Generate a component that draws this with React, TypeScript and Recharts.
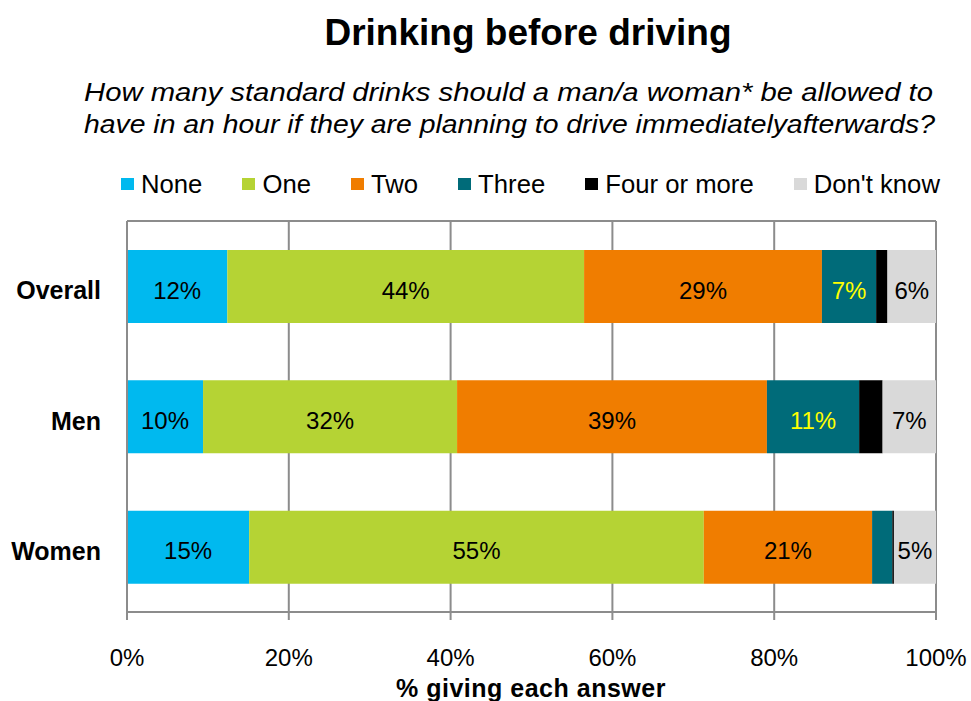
import React from "react";
import { BarChart, Bar, XAxis, YAxis, CartesianGrid, LabelList } from "recharts";

const categories = ["Overall", "Men", "Women"];
const seriesNames = ["None", "One", "Two", "Three", "Four or more", "Don't know"];
const noneValues = [12.4, 9.4, 15.1];
const oneValues = [44.1, 31.4, 56.2];
const twoValues = [29.4, 38.3, 20.8];
const threeValues = [6.7, 11.4, 2.5];
const fourValues = [1.4, 2.9, 0.2];
const dontKnowValues = [6.0, 6.6, 5.2];
const noneLabels = ["12%", "10%", "15%"];
const oneLabels = ["44%", "32%", "55%"];
const twoLabels = ["29%", "39%", "21%"];
const threeLabels = ["7%", "11%", ""];
const fourLabels = ["", "", ""];
const dontKnowLabels = ["6%", "7%", "5%"];
const xTicks = [0, 20, 40, 60, 80, 100];

const title = "Drinking before driving";
const subtitle1 = "How many standard drinks should a man/a woman* be allowed to";
const subtitle2 = "have in an hour if they are planning to drive immediatelyafterwards?";
const xAxisTitle = "% giving each answer";

const seriesValues = [noneValues, oneValues, twoValues, threeValues, fourValues, dontKnowValues];
const seriesLabels = [noneLabels, oneLabels, twoLabels, threeLabels, fourLabels, dontKnowLabels];
const seriesColors = ["#00B9EF", "#B5D334", "#F07D00", "#006B79", "#000000", "#D9D9D9"];
const labelColors = ["#000000", "#000000", "#000000", "#FFFF00", "#000000", "#000000"];

const data = categories.map((c, i) => {
  const row: Record<string, string | number> = { category: c };
  seriesNames.forEach((_, s) => {
    row[`s${s}`] = seriesValues[s][i];
    row[`l${s}`] = seriesLabels[s][i];
  });
  return row;
});

const FONT = "'Liberation Sans', Arial, sans-serif";
const GRID = "#8C8C8C";

const XTick = (props: any) => {
  const { x, y, payload } = props;
  return (
    <text x={x} y={y} dy={44} textAnchor="middle" fontSize={24} fill="#000" fontFamily={FONT}>
      {`${payload.value}%`}
    </text>
  );
};

const YTick = (props: any) => {
  const { x, y, payload } = props;
  return (
    <text x={x} y={y} dy={13} textAnchor="end" fontSize={25} fontWeight="bold" fill="#000" fontFamily={FONT}>
      {payload.value}
    </text>
  );
};

const makeLabel = (color: string) => (props: any) => {
  const { x, y, width, height, value } = props;
  if (!value) return null;
  return (
    <text x={x + width / 2} y={y + height / 2} dy={12} textAnchor="middle" fontSize={24} fill={color} fontFamily={FONT}>
      {value}
    </text>
  );
};

export default function App() {
  return (
    <div style={{ position: "absolute", left: 0, top: 0, width: 971, height: 701, background: "#fff", fontFamily: FONT, overflow: "hidden" }}>
      <BarChart
        width={971}
        height={701}
        layout="vertical"
        data={data}
        margin={{ top: 221, right: 35, bottom: 0, left: 0 }}
        barSize={73}
      >
        <CartesianGrid
          stroke={GRID}
          strokeWidth={2}
          vertical={true}
          horizontal={true}
          horizontalCoordinatesGenerator={({ offset }: any) => [offset.top]}
        />
        <XAxis
          type="number"
          domain={[0, 100]}
          ticks={xTicks}
          height={89}
          axisLine={{ stroke: GRID, strokeWidth: 2 }}
          tickLine={{ stroke: GRID, strokeWidth: 2 }}
          tickSize={8}
          tick={<XTick />}
          interval={0}
        />
        <YAxis
          type="category"
          dataKey="category"
          width={127}
          axisLine={{ stroke: GRID, strokeWidth: 2 }}
          tickLine={false}
          tickSize={0}
          tickMargin={26}
          tick={<YTick />}
        />
        {seriesNames.map((name, s) => (
          <Bar key={name} dataKey={`s${s}`} name={name} stackId="a" fill={seriesColors[s]} isAnimationActive={false}>
            <LabelList dataKey={`l${s}`} content={makeLabel(labelColors[s])} />
          </Bar>
        ))}
      </BarChart>
      <svg width={971} height={701} style={{ position: "absolute", left: 0, top: 0, pointerEvents: "none" }}>
        <text x={528} y={45} textAnchor="middle" fontSize={37} fontWeight="bold" fill="#000" fontFamily={FONT}>
          {title}
        </text>
        <text x={84} y={101} fontSize={26} fontStyle="italic" fill="#000" fontFamily={FONT} textLength={849} lengthAdjust="spacingAndGlyphs">
          {subtitle1}
        </text>
        <text x={84} y={133} fontSize={26} fontStyle="italic" fill="#000" fontFamily={FONT} textLength={851} lengthAdjust="spacingAndGlyphs">
          {subtitle2}
        </text>
        <text x={531} y={697} textAnchor="middle" fontSize={25} fontWeight="bold" fill="#000" fontFamily={FONT} letterSpacing={0.5}>
          {xAxisTitle}
        </text>
      </svg>
      <div style={{ position: "absolute", left: 121, top: 170, display: "flex", alignItems: "center", height: 28, fontSize: 25.7, lineHeight: "28px", color: "#000", whiteSpace: "nowrap" }}>
        {seriesNames.map((name, s) => (
          <div key={name} style={{ display: "flex", alignItems: "center", marginRight: 40 }}>
            <div style={{ width: 13, height: 12, background: seriesColors[s], marginRight: 7 }} />
            <span>{name}</span>
          </div>
        ))}
      </div>
    </div>
  );
}
